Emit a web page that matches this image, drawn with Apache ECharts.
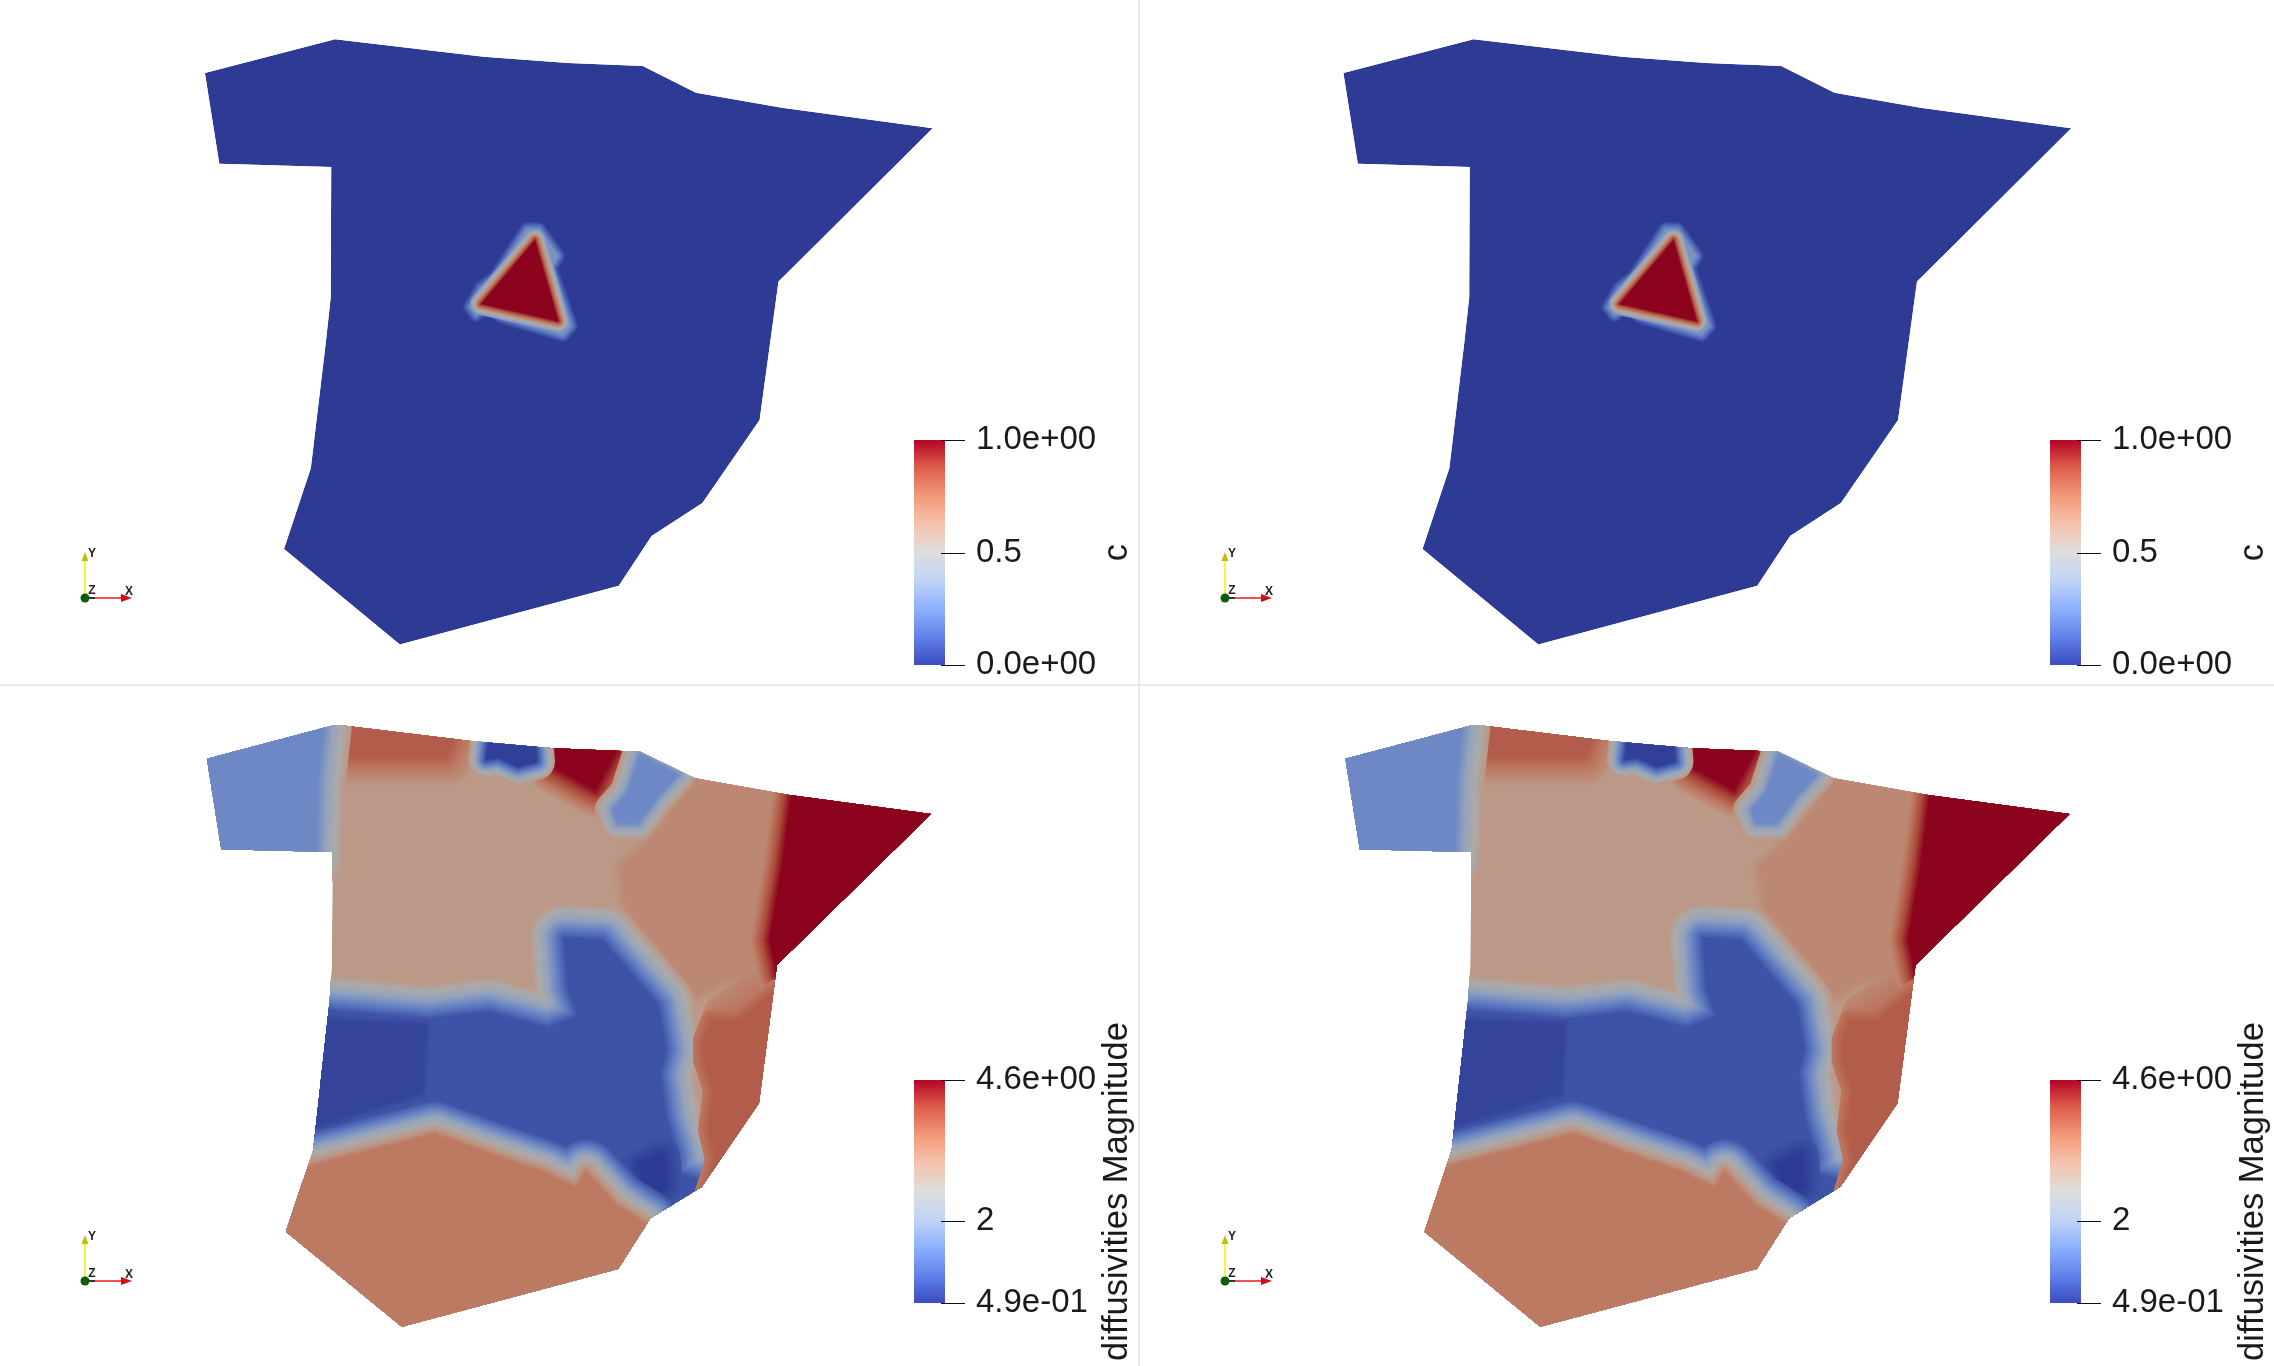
<!DOCTYPE html>
<html>
<head>
<meta charset="utf-8">
<title>c and diffusivities</title>
<script src="https://cdn.jsdelivr.net/npm/echarts@6/dist/echarts.min.js"></script>
<style>
html, body { margin: 0; background: #fff; }
#chart { width: 2274px; height: 1366px; }
</style>
</head>
<body>
<div id="chart"></div>
<script>
// coolwarm colour table, position on the bar -> colour
const colormapPos = [0, 0.125, 0.25, 0.375, 0.5, 0.625, 0.75, 0.875, 1];
const colormapRgb = [[59, 76, 192], [98, 130, 234], [141, 176, 254], [192, 212, 245], [221, 221, 221], [245, 196, 173], [244, 152, 122], [222, 96, 77], [180, 4, 38]];

// ---- top row: field c
const cOutline = [[204.9,73],[335,39.2],[483.5,56.7],[568,62.9],[642.7,66.1],[696,92.7],[782,107.8],[932.7,128.2],[811.8,248.6],[778.5,281.6],[759.6,420],[702.4,502.9],[651.6,535.9],[618.8,585.7],[399.9,644.5],[284,549],[310.8,468.2],[325.8,342.4],[330.7,297.6],[331.2,166.9],[219.3,163.7]];
const cHalo = [[527,229],[539,229],[558,256],[551,268],[571,326],[563,335],[502,317],[488,306],[476,315],[470,307],[481,288],[495,277]];
const cCore = [[535,240],[558.5,321.5],[481,304]];
const cPatches = [cHalo, cCore];
const cPatchValues = [0.3, 1];
const cPatchFades = [0, 0.3];
const cPatchSpread = [8, 11];
const cTicks = [0, 0.5, 1];
const cTickLabels = ['0.0e+00', '0.5', '1.0e+00'];

// ---- bottom row: diffusivities Magnitude
const dOutline = [[206.9,758.7],[331.7,725.7],[339,725],[468.6,740.7],[553,748.3],[640.2,751.7],[695,778.3],[789.5,795],[931,814],[777,965],[772.4,1000],[759,1103.3],[701.8,1186.7],[650.5,1218.3],[618.2,1269],[401.8,1326.7],[285.9,1231.7],[313.2,1150],[329.7,1000],[331.7,966.7],[332.7,852],[221.3,849.3]];
const dEast = [[697.4,780],[787,795],[772,960],[762,967],[717,983],[697,993],[627.8,906.7],[622.8,866.7],[652.6,840]];
const dSouthEastGlow = [[725,1015],[770,985],[790,1000],[770,1050],[715,1050]];
const dFarEast = [[792,790],[940,810],[777,975],[769.6,940],[782,866.7]];
const dNorthBrown = [[345,715],[460,725],[446,757],[345,757]];
const dNorthRed = [[555.6,735],[625.3,735],[595.4,790],[555.6,768.3]];
const dPocket = [[488.5,738],[535,738],[537,761.7],[518,767],[498.4,758],[486,760]];
const dNorthEast = [[640,755],[677.5,775],[657.6,796.7],[637.7,823],[617.8,823],[612.8,810],[627.8,793]];
const dWest = [[190,750],[325,715],[318,780],[316,860],[210,860]];
const dBlue = [[300,1008],[428.8,1019],[488.5,1012],[548,1028],[578,1016],[568,988],[564,938],[602,940],[658,1005],[666,1050],[660,1073],[666,1117],[678,1157],[676,1173],[710,1183],[665,1240],[640,1230],[600,1200],[530,1180],[434,1160],[290,1200]];
const dBlueWest = [[300,1020],[426,1025],[421.7,1093],[300,1130]];
const dBlueSouth = [[640,1165],[662,1155],[665,1185],[652,1205]];
const dSouthEast = [[740,1020],[777,990],[790,1000],[775,1110],[706,1192],[716,1160],[709,1130],[714,1090],[704,1060],[704,1040],[712,1020]];
const dSouth = [[435,1134],[300,1169],[270,1240],[401.8,1340],[630,1280],[646,1224],[616,1205],[586,1172],[576,1188],[543,1172],[493,1155]];
const dTicks = [0.49, 2, 4.6];
const dTickLabels = ['4.9e-01', '2', '4.6e+00'];

const dPlain = 3.04;
const dPatches = [dEast, dSouthEastGlow, dFarEast, dNorthBrown, dNorthRed, dPocket, dNorthEast, dWest, dBlue, dBlueWest, dBlueSouth, dSouthEast, dSouth];
const dPatchValues = [3.28, 3.55, 4.6, 3.86, 4.6, 0.55, 1.52, 1.52, 0.78, 0.61, 0.49, 3.86, 3.5];
const dPatchFades = [3.04, 3.28, 3.28, 3.04, 3.04, 3.04, 3.1, 3.04, 3.04, 0.78, 0.78, 3.55, 0.78];
const dPatchSpread = [12, 22, 20, 30, 28, 18, 18, 28, 36, 6, 18, 11, 34];

// orientation widget, panel pixels
const triadOrigin = [85, 598];
const triadXTip = [132, 598];
const triadYTip = [85, 552];

const SHADE = 0.77;  // surface lighting in the render, bar is unlit
const BAR_OVERHANG = 31 / 27;  // bar runs a little past the tick root
const TICK_LEN = 24;

function cmap(t, shade) {
  t = Math.min(1, Math.max(0, t));
  let i = 0;
  while (i < colormapPos.length - 2 && t > colormapPos[i + 1]) i++;
  const f = (t - colormapPos[i]) / (colormapPos[i + 1] - colormapPos[i]);
  const c = colormapRgb[i].map((v, k) => Math.round((v + (colormapRgb[i + 1][k] - v) * f) * shade));
  return 'rgb(' + c.join(',') + ')';
}

function barStops() {
  const stops = [];
  for (let i = 0; i <= 40; i++) stops.push({ offset: i / 40, color: cmap(1 - i / 40, 1) });
  return stops;
}

const toPx = (api, pts) => pts.map(p => api.coord(p));

// a patch and its soft edge: outward strokes, widest first, walking value -> fade through the colormap
function patchLayers(points, value, fade, spread, min, max) {
  const out = [];
  const toT = v => (v - min) / (max - min);
  for (let w = spread; w > 0; w -= 1) {
    const c = cmap(toT(value + (fade - value) * w / spread), SHADE);
    out.push({ type: 'polygon', shape: { points }, style: { fill: c, stroke: c, lineWidth: 2 * w, lineJoin: 'round' } });
  }
  const c0 = cmap(toT(value), SHADE);
  out.push({ type: 'polygon', shape: { points }, style: { fill: c0 } });
  return out;
}

function fieldSeries(gridIndex, outline, base, patches, values, fades, spreads, min, max) {
  return {
    type: 'custom',
    coordinateSystem: 'cartesian2d',
    xAxisIndex: gridIndex,
    yAxisIndex: gridIndex,
    silent: true,
    animation: false,
    data: [0],
    renderItem: (params, api) => {
      let children = [{ type: 'polygon', shape: { points: toPx(api, outline) }, style: { fill: cmap((base - min) / (max - min), SHADE) } }];
      patches.forEach((p, i) => {
        children = children.concat(patchLayers(toPx(api, p), values[i], fades[i], spreads[i], min, max));
      });
      return {
        type: 'group',
        clipPath: { type: 'polygon', shape: { points: toPx(api, outline) } },
        children
      };
    }
  };
}

function triadSeries(gridIndex, dx, dy) {
  return {
    type: 'custom',
    coordinateSystem: 'cartesian2d',
    xAxisIndex: gridIndex,
    yAxisIndex: gridIndex,
    silent: true,
    animation: false,
    data: [0],
    renderItem: (params, api) => {
      const at = (p, ox, oy) => api.coord([p[0] + dx + (ox || 0), p[1] + dy + (oy || 0)]);
      const o = at(triadOrigin), x = at(triadXTip), y = at(triadYTip);
      const txt = (s, p) => ({ type: 'text', style: { text: s, x: p[0], y: p[1], fill: '#222', font: 'bold 12px "Liberation Sans"', align: 'center', verticalAlign: 'middle' } });
      return {
        type: 'group',
        children: [
          { type: 'line', shape: { x1: o[0], y1: o[1], x2: y[0], y2: y[1] + 6 }, style: { stroke: '#f2f000', lineWidth: 1.5 } },
          { type: 'line', shape: { x1: o[0], y1: o[1], x2: o[0] + 10, y2: o[1] }, style: { stroke: '#333', lineWidth: 2 } },
          { type: 'line', shape: { x1: o[0] + 10, y1: o[1], x2: x[0] - 8, y2: x[1] }, style: { stroke: '#f01818', lineWidth: 1.5 } },
          { type: 'polygon', shape: { points: [[y[0], y[1]], [y[0] - 3.5, y[1] + 9], [y[0] + 3.5, y[1] + 9]] }, style: { fill: '#c4bc10' } },
          { type: 'polygon', shape: { points: [[x[0], x[1]], [x[0] - 11, x[1] - 4], [x[0] - 11, x[1] + 4]] }, style: { fill: '#d01010' } },
          { type: 'circle', shape: { cx: o[0], cy: o[1], r: 4.5 }, style: { fill: '#0c5c10' } },
          txt('Y', at(triadYTip, 7, 2)),
          txt('Z', at(triadOrigin, 7, -7)),
          txt('X', at(triadXTip, -3, -6))
        ]
      };
    }
  };
}

// colour bar plus its ticks; axis ticks would not sit right of the bar, so they are drawn here
function barSeries(gridIndex, min, max, ticks) {
  return {
    type: 'custom',
    coordinateSystem: 'cartesian2d',
    xAxisIndex: gridIndex,
    yAxisIndex: gridIndex,
    silent: true,
    animation: false,
    z: 1,
    data: [0],
    renderItem: (params, api) => {
      const a = api.coord([0, max]);
      const b = api.coord([BAR_OVERHANG, min]);
      const children = [{
        type: 'rect',
        shape: { x: a[0], y: a[1], width: b[0] - a[0], height: b[1] - a[1] },
        style: { fill: { type: 'linear', x: 0, y: 0, x2: 0, y2: 1, colorStops: barStops() } }
      }];
      ticks.forEach(v => {
        const p = api.coord([1, v]);
        const y = Math.round(p[1]) + 0.5;
        children.push({ type: 'line', shape: { x1: p[0], y1: y, x2: p[0] + TICK_LEN, y2: y }, style: { stroke: '#111', lineWidth: 1 } });
      });
      return { type: 'group', children };
    }
  };
}

const RIGHT_X = 1138.5;
const RIGHT_BAR = 1136;
const ROW_Y = 685;

const panels = [
  { left: 0, width: RIGHT_X, top: 0, height: ROW_Y, yMin: 0, yMax: ROW_Y },
  { left: RIGHT_X, width: 2274 - RIGHT_X, top: 0, height: ROW_Y, yMin: 0, yMax: ROW_Y },
  { left: 0, width: RIGHT_X, top: ROW_Y, height: 1366 - ROW_Y, yMin: ROW_Y, yMax: 1366 },
  { left: RIGHT_X, width: 2274 - RIGHT_X, top: ROW_Y, height: 1366 - ROW_Y, yMin: ROW_Y, yMax: 1366 }
];
const bars = [
  { left: 914, top: 440, height: 225, min: 0, max: 1, ticks: cTicks, labels: cTickLabels, name: 'c' },
  { left: 914 + RIGHT_BAR, top: 440, height: 225, min: 0, max: 1, ticks: cTicks, labels: cTickLabels, name: 'c' },
  { left: 914, top: 1080, height: 223, min: 0.49, max: 4.6, ticks: dTicks, labels: dTickLabels, name: 'diffusivities Magnitude' },
  { left: 914 + RIGHT_BAR, top: 1080, height: 223, min: 0.49, max: 4.6, ticks: dTicks, labels: dTickLabels, name: 'diffusivities Magnitude' }
];

const grid = [], xAxis = [], yAxis = [], series = [];

panels.forEach((p, i) => {
  grid.push({ left: p.left, top: p.top, width: p.width, height: p.height });
  xAxis.push({ type: 'value', gridIndex: i, min: 0, max: p.width, show: false });
  yAxis.push({ type: 'value', gridIndex: i, min: p.yMin, max: p.yMax, inverse: true, show: false });
});

bars.forEach((b, k) => {
  const i = k + panels.length;
  grid.push({ left: b.left, top: b.top, width: 27, height: b.height });
  xAxis.push({ type: 'value', gridIndex: i, min: 0, max: 1, show: false });
  yAxis.push({
    type: 'value',
    gridIndex: i,
    min: b.min,
    max: b.max,
    position: 'right',
    z: 5,
    name: b.name,
    nameLocation: 'middle',
    nameRotate: 90,
    nameGap: 159,
    nameTextStyle: { fontFamily: 'Liberation Sans', fontSize: 34.5, color: '#1a1a1a' },
    axisLine: { show: false },
    splitLine: { show: false },
    axisTick: { show: false },
    axisLabel: {
      show: true,
      customValues: b.ticks,
      margin: 35,
      fontFamily: 'Liberation Sans',
      fontSize: 33,
      color: '#1a1a1a',
      align: 'left',
      verticalAlign: 'middle',
      padding: [0, 0, 8, 0],
      formatter: v => b.labels[b.ticks.indexOf(v)]
    }
  });
});

[0, 1].forEach(i => series.push(fieldSeries(i, cOutline, 0, cPatches, cPatchValues, cPatchFades, cPatchSpread, 0, 1)));
[2, 3].forEach(i => series.push(fieldSeries(i, dOutline, dPlain, dPatches, dPatchValues, dPatchFades, dPatchSpread, 0.49, 4.6)));
series.push(triadSeries(0, 0, 0), triadSeries(1, 1.5, 0), triadSeries(2, 0, 683), triadSeries(3, 1.5, 683));
bars.forEach((b, k) => series.push(barSeries(k + panels.length, b.min, b.max, b.ticks)));

const chart = echarts.init(document.getElementById('chart'));
chart.setOption({
  animation: false,
  backgroundColor: '#ffffff',
  grid, xAxis, yAxis, series,
  graphic: [
    { type: 'rect', silent: true, shape: { x: 1138, y: 0, width: 2, height: 1366 }, style: { fill: '#ece8e4' } },
    { type: 'rect', silent: true, shape: { x: 0, y: 684, width: 2274, height: 2 }, style: { fill: '#ece8e4' } }
  ]
});
window.addEventListener('resize', () => chart.resize());
</script>
</body>
</html>
